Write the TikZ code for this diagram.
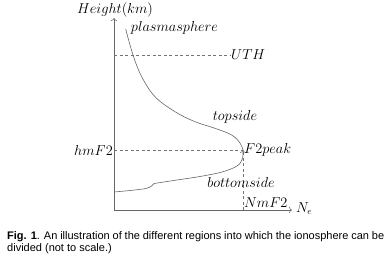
\documentclass[tikz,border=0pt]{standalone}
\usepackage{amsmath,amssymb}
\usepackage{fontspec}
\newfontfamily\capfont{Liberation Sans}
\usetikzlibrary{positioning,arrows.meta,calc}

\begin{document}
\begin{tikzpicture}[
    x=1pt, y=-1pt,
    axis/.style={->, black!60, line width=0.6pt},
    guide/.style={black!55, line width=0.6pt, dash pattern=on 3pt off 2.5pt},
    profile/.style={black!60, line width=0.6pt},
    lbl/.style={inner sep=1pt, font=\fontsize{13.3}{15}\selectfont},
]
    \useasboundingbox (0,0) rectangle (389,258);

    % Axes
    \coordinate (origin) at (114,210);
    \coordinate (ytop) at (114,18);
    \coordinate (xend) at (292,210);
    \draw[axis] (origin) -- (ytop);
    \draw[axis] (origin) -- (xend);
    \node[lbl, above=0pt of ytop, xshift=1pt] (height) {$Height(km)$};
    \node[lbl, anchor=base west] (ne) at (295,212) {$N_e$};

    % Reference levels
    \coordinate (peak) at (243,150);
    \coordinate (nm) at (243,210);
    \coordinate (hm) at (114,150);
    \coordinate (uthl) at (114,55);
    \coordinate (uthr) at (230,55);
    \draw[guide] (hm) -- (peak);
    \draw[guide, ->] (nm) -- (peak);
    \draw[guide] (uthl) -- (uthr);

    % Density profile
    \draw[profile] plot[smooth, tension=0.6] coordinates {(125.7,29) (133,55) (141.7,76.7) (155,96.7) (175,111.7) (195,121.7) (215,128.3) (231.7,135) (240,143) (peak)};
    \draw[profile] plot[smooth, tension=0.6] coordinates {(peak) (242.3,159) (237,166) (222,172) (200,176.5) (177,180) (154,183.5)};
    \draw[profile] plot[smooth, tension=0.5] coordinates {(154,183.5) (151.5,186) (146,188.5) (130,190.5) (114,192)};

    % Labels
    \node[lbl, left=0pt of hm] (hmf2) {$hmF2$};
    \node[lbl, right=0pt of peak] (f2peak) {$F2peak$};
    \node[lbl, right=0pt of uthr] (uth) {$UTH$};
    \node[lbl, anchor=base west] (nmf2) at (243,207) {$NmF2$};
    \node[lbl] (plasma) at (174.5,28) {$plasmasphere$};
    \node[lbl] (topside) at (235,117) {$topside$};
    \node[lbl] (bottomside) at (241,182) {$bottomside$};

    % Caption
    \node[anchor=north west, inner sep=0pt, text width=377pt, align=justify, font=\capfont\fontsize{11}{12}\selectfont] (caption) at (7,231) {\textbf{Fig. 1}. An illustration of the different regions into which the ionosphere can be\linebreak divided (not to scale.)};
\end{tikzpicture}
\end{document}
